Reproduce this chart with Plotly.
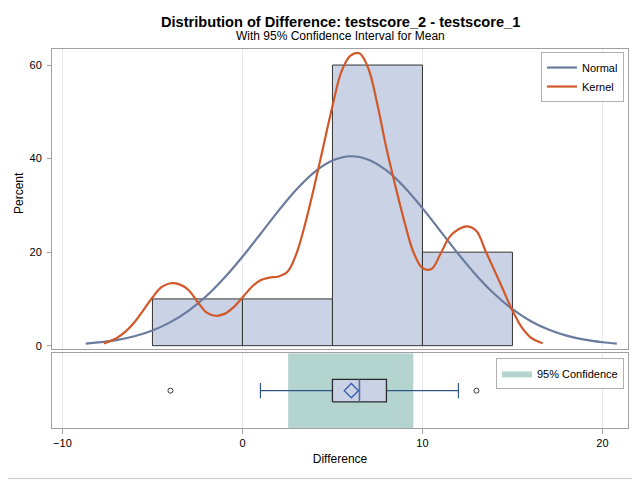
import plotly.graph_objects as go

# ---------------- data ----------------
bin_centers = [-2.5, 2.5, 7.5, 12.5]
bin_percent = [10, 10, 60, 20]
bin_width = 5

normal_x = [-8.7, -8, -7, -6, -5, -4, -3, -2, -1, 0, 1, 2, 3, 4, 5, 6, 7, 8, 9, 10,
            11, 12, 13, 14, 15, 16, 17, 18, 19, 20, 20.8]
normal_y = [0.45, 0.69, 1.20, 2.02, 3.25, 5.03, 7.46, 10.61, 14.50, 19.00,
            23.88, 28.83, 33.39, 37.11, 39.57, 40.50, 39.77, 37.47, 33.89, 29.41,
            24.49, 19.57, 15.01, 11.04, 7.80, 5.28, 3.44, 2.14, 1.28, 0.74, 0.46]

kernel_x = [-7.7, -7.0, -6.5, -6.0, -5.5, -5.0, -4.5, -4.0, -3.5, -3.0, -2.5, -2.0,
            -1.5, -1.0, -0.5, 0.0, 0.5, 1.0, 1.5, 2.0, 2.5, 3.0, 3.5, 4.0, 4.5,
            5.0, 5.5, 6.0, 6.5, 7.0, 7.5, 8.0, 8.5, 9.0, 9.5, 10.0, 10.5, 11.0,
            11.5, 12.0, 12.5, 13.0, 13.5, 14.0, 14.5, 15.0, 15.5, 16.0, 16.68]
kernel_y = [0.5, 1.6, 3.0, 5.0, 7.6, 10.3, 12.5, 13.35, 13.1, 11.9, 9.4, 7.1,
            6.4, 6.8, 8.2, 10.3, 12.5, 14.0, 14.55, 14.8, 15.8, 19.7, 26.3, 34.2, 42.7,
            51.2, 58.6, 62.0, 62.5, 59.2, 51.5, 42.2, 34.1, 26.5, 20.0, 16.6, 16.4, 19.6,
            23.2, 24.9, 25.5, 24.5, 20.3, 16.1, 11.8, 7.5, 4.0, 1.8, 0.5]

box_q1, box_median, box_q3 = 5, 6.5, 8
whisker_low, whisker_high = 1, 12
mean_value = 6.05
outliers = [-4, 13]
ci_low, ci_high = 2.54, 9.49

x_ticks = [-10, 0, 10, 20]
y_ticks = [0, 20, 40, 60]

# ---------------- style ----------------
FONT = "Liberation Sans, Arial, sans-serif"
hist_fill = "#c9d3e5"
hist_line = "#333333"
normal_col = "#6a7b9e"
kernel_col = "#d2582a"
ci_col = "#b4d4cf"
box_half = 0.3

fig = go.Figure()

fig.add_trace(go.Bar(x=bin_centers, y=bin_percent, width=bin_width,
                     marker=dict(color=hist_fill, line=dict(color=hist_line, width=1)),
                     showlegend=False, xaxis="x", yaxis="y", hoverinfo="skip"))
fig.add_trace(go.Scatter(x=normal_x, y=normal_y, mode="lines", name="Normal",
                         line=dict(color=normal_col, width=2.2, shape="spline"),
                         xaxis="x", yaxis="y", legend="legend"))
fig.add_trace(go.Scatter(x=kernel_x, y=kernel_y, mode="lines", name="Kernel",
                         line=dict(color=kernel_col, width=2.2, shape="spline"),
                         xaxis="x", yaxis="y", legend="legend"))

# confidence band
fig.add_trace(go.Scatter(x=[ci_low, ci_high, ci_high, ci_low, ci_low],
                         y=[-1, -1, 1, 1, -1], fill="toself", fillcolor=ci_col,
                         mode="lines", line=dict(width=0, color="#555555"),
                         name="95% Confidence", xaxis="x2", yaxis="y2", legend="legend2"))

# whiskers
fig.add_trace(go.Scatter(x=[whisker_low, box_q1, None, box_q3, whisker_high],
                         y=[0, 0, None, 0, 0], mode="lines",
                         line=dict(color="#2f5788", width=1.2),
                         showlegend=False, xaxis="x2", yaxis="y2"))
fig.add_trace(go.Scatter(x=[whisker_low, whisker_high], y=[0, 0], mode="markers",
                         marker=dict(symbol="line-ns", size=11, color="#2f5788",
                                     line=dict(color="#2f5788", width=1.2)),
                         showlegend=False, xaxis="x2", yaxis="y2"))
# box
fig.add_trace(go.Scatter(x=[box_q1, box_q3, box_q3, box_q1, box_q1],
                         y=[-box_half, -box_half, box_half, box_half, -box_half],
                         fill="toself", fillcolor=hist_fill, mode="lines",
                         line=dict(color="#2a2a2a", width=1.3),
                         showlegend=False, xaxis="x2", yaxis="y2", hoverinfo="skip"))
fig.add_trace(go.Scatter(x=[box_median, box_median], y=[-box_half, box_half],
                         mode="lines", line=dict(color="#5a6e9c", width=1.6),
                         showlegend=False, xaxis="x2", yaxis="y2"))
fig.add_trace(go.Scatter(x=[mean_value], y=[0], mode="markers",
                         marker=dict(symbol="diamond-open", size=11, color="#3b5bb0",
                                     line=dict(color="#3b5bb0", width=1.3)),
                         showlegend=False, xaxis="x2", yaxis="y2"))
fig.add_trace(go.Scatter(x=outliers, y=[0] * len(outliers), mode="markers",
                         marker=dict(symbol="circle-open", size=5, color="#3a3a3a",
                                     line=dict(color="#3a3a3a", width=1)),
                         showlegend=False, xaxis="x2", yaxis="y2"))

frame = "#a0a0a0"
grid = "#e8e8e8"
xr = [-10.58, 21.42]
top_dom = [0.2077, 1.0]
bot_dom = [0.0, 0.197]

fig.update_layout(
    width=632, height=472,
    margin=dict(l=44, r=12, t=41, b=52),
    paper_bgcolor="white", plot_bgcolor="white",
    font=dict(family=FONT, size=12, color="#000000"),
    barmode="overlay",
    xaxis=dict(domain=[0, 1], anchor="y", range=xr, tickvals=x_ticks,
               showticklabels=False, ticks="", showgrid=True, gridcolor=grid,
               showline=True, mirror=True, linecolor=frame, linewidth=1,
               zeroline=False, automargin=False),
    yaxis=dict(domain=top_dom, anchor="x", range=[-0.77, 63.43], tickvals=y_ticks,
               ticks="outside", ticklen=4, tickcolor=frame, showgrid=False,
               ticklabelstandoff=3,
               showline=True, mirror=True, linecolor=frame, linewidth=1, zeroline=False,
               automargin=False, tickfont=dict(size=11)),
    xaxis2=dict(domain=[0, 1], anchor="y2", range=xr, matches="x", tickvals=x_ticks,
                ticks="outside", ticklen=5, tickcolor=frame, showgrid=True, gridcolor=grid,
                showline=True, mirror=True, linecolor=frame, linewidth=1,
                zeroline=False, automargin=False,
                title=dict(text="Difference", font=dict(size=12), standoff=6),
                tickfont=dict(size=11)),
    yaxis2=dict(domain=bot_dom, anchor="x2", range=[-1, 1], showticklabels=False,
                ticks="", showgrid=False, showline=True, mirror=True,
                linecolor=frame, linewidth=1, zeroline=False, automargin=False),
    legend=dict(x=0.993, y=0.992, xanchor="right", yanchor="top",
                bgcolor="white", bordercolor="#b0b0b0", borderwidth=1,
                font=dict(size=11), tracegroupgap=0),
    legend2=dict(x=0.993, y=0.185, xanchor="right", yanchor="top",
                 bgcolor="white", bordercolor="#b0b0b0", borderwidth=1,
                 font=dict(size=11)),
    annotations=[
        dict(text="<b>Distribution of Difference: testscore_2 - testscore_1</b>",
             x=0.5, y=1.0714, xref="paper", yref="paper", showarrow=False,
             xanchor="center", yanchor="middle", font=dict(size=14.6)),
        dict(text="With 95% Confidence Interval for Mean",
             x=0.5, y=1.0344, xref="paper", yref="paper", showarrow=False,
             xanchor="center", yanchor="middle", font=dict(size=12)),
        dict(text="Percent", x=-0.0573, y=0.620, xref="paper", yref="paper",
             showarrow=False, textangle=-90, xanchor="center", yanchor="middle",
             font=dict(size=12)),
    ],
    shapes=[dict(type="rect", xref="paper", yref="paper",
                 x0=-0.0885, x1=1.018, y0=-0.133, y1=1.1296,
                 line=dict(color="#c8c8c8", width=1), fillcolor="rgba(0,0,0,0)",
                 layer="below")],
)

fig.write_html("out.html")
